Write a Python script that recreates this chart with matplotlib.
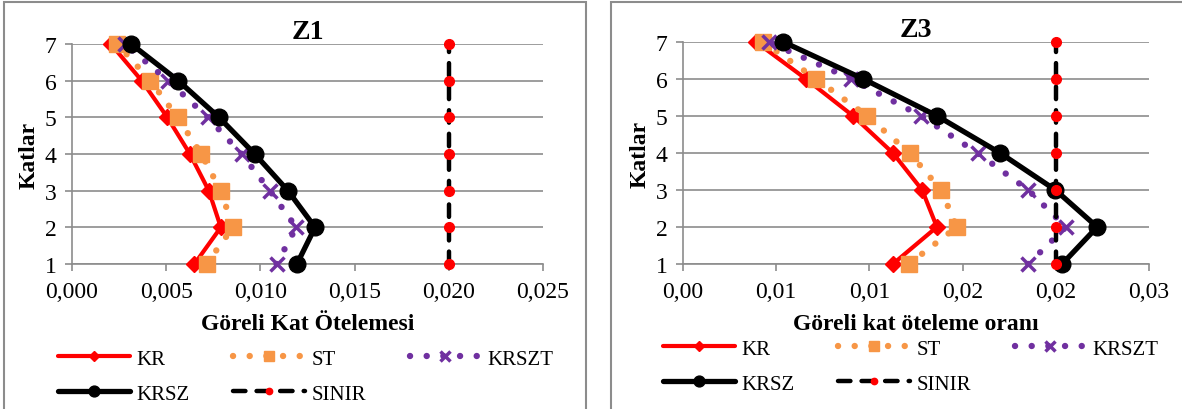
import matplotlib.pyplot as plt
from matplotlib.patches import Rectangle

plt.rcParams['font.family'] = ['Liberation Serif', 'DejaVu Serif']

katlar = [1, 2, 3, 4, 5, 6, 7]
x_ticks = [0.000, 0.005, 0.010, 0.015, 0.020, 0.025]

# Z1 - Göreli Kat Ötelemesi
z1_kr = [0.0065, 0.0079, 0.00726, 0.00626, 0.00506, 0.0037, 0.00206]
z1_st = [0.00714, 0.00854, 0.0079, 0.00686, 0.0056, 0.00416, 0.0024]
z1_krszt = [0.01086, 0.0119, 0.0105, 0.009, 0.0072, 0.0051, 0.0028]
z1_krsz = [0.01194, 0.0129, 0.01146, 0.0097, 0.0078, 0.00564, 0.00314]
z1_sinir = [0.02, 0.02, 0.02, 0.02, 0.02, 0.02, 0.02]
z1_xlabels = ['0,000', '0,005', '0,010', '0,015', '0,020', '0,025']

# Z3 - Göreli kat öteleme oranı
z3_kr = [0.01126, 0.01362, 0.01283, 0.01126, 0.00913, 0.0066, 0.00392]
z3_st = [0.01212, 0.01469, 0.01384, 0.01216, 0.00988, 0.00715, 0.00428]
z3_krszt = [0.01852, 0.02054, 0.01852, 0.0158, 0.01277, 0.00903, 0.00459]
z3_krsz = [0.02034, 0.02222, 0.01998, 0.01701, 0.01364, 0.00968, 0.00539]
z3_sinir = [0.02, 0.02, 0.02, 0.02, 0.02, 0.02, 0.02]
z3_xlabels = ['0,00', '0,01', '0,01', '0,02', '0,02', '0,03']

W, H = 1182, 410
fig = plt.figure(figsize=(W / 100, H / 100), dpi=100)

def px_axes(x0, x1, ytop, ybot):
    return fig.add_axes([x0 / W, 1 - ybot / H, (x1 - x0) / W, (ybot - ytop) / H])

def draw_panel(ax, kr, st, krszt, krsz, sinir, title, xlabel, xlabels, leg_x, leg_y):
    dot = (0, (0.01, 2.6))
    h_kr, = ax.plot(kr, katlar, color='#ff0000', lw=3, marker='D', ms=8,
                    solid_capstyle='round', label='KR', zorder=3, clip_on=False)
    h_st, = ax.plot(st, katlar, color='#f79646', lw=4.6, ls=dot, dash_capstyle='round',
                    marker='s', ms=11, label='ST', zorder=3, clip_on=False)
    h_krszt, = ax.plot(krszt, katlar, color='#7030a0', lw=4.6, ls=dot, dash_capstyle='round',
                       marker='x', ms=10, mew=2.5, label='KRSZT', zorder=3, clip_on=False)
    h_krsz, = ax.plot(krsz, katlar, color='black', lw=3.8, marker='o', ms=12,
                      solid_capstyle='round', label='KRSZ', zorder=4, clip_on=False)
    h_sinir, = ax.plot(sinir, katlar, color='black', lw=3.2, ls=(0, (2.8, 2.5)),
                       dash_capstyle='round', marker='o', ms=7, mfc='#ff0000',
                       mec='#ff0000', label='SINIR', zorder=5, clip_on=False)

    ax.set_xlim(0, 0.025)
    ax.set_ylim(1, 7)
    ax.set_xticks(x_ticks)
    ax.set_xticklabels(xlabels)
    ax.set_yticks(katlar)
    ax.grid(axis='y', color='#8c8c8c', lw=1.2)
    ax.set_axisbelow(True)
    for s in ['top', 'right']:
        ax.spines[s].set_visible(False)
    for s in ['left', 'bottom']:
        ax.spines[s].set_color('#8c8c8c')
        ax.spines[s].set_linewidth(1.2)
    ax.tick_params(colors='#8c8c8c', labelcolor='black', labelsize=17,
                   length=5, width=1.2, direction='out')
    ax.tick_params(axis='y', pad=6)
    ax.tick_params(axis='x', pad=7)
    ax.set_title(title, fontsize=20, fontweight='bold', pad=4)
    ax.set_xlabel(xlabel, fontsize=17, fontweight='bold', labelpad=8)
    ax.set_ylabel('Katlar', fontsize=17, fontweight='bold', labelpad=4)

    handles = [h_kr, h_krsz, h_st, h_sinir, h_krszt]
    ax.legend(handles=handles, ncol=3, loc='upper left',
              bbox_to_anchor=(leg_x / W, 1 - leg_y / H), bbox_transform=fig.transFigure,
              frameon=False, fontsize=15, handlelength=3.45, handletextpad=0.3,
              columnspacing=2.1, labelspacing=0.75, markerscale=0.65, borderaxespad=0,
              borderpad=0)

fig.patches.append(Rectangle((4 / W, -0.05), 582 / W, 1.05 - 3 / H,
                             transform=fig.transFigure, fill=False,
                             edgecolor='#8c8c8c', lw=1.5))
fig.patches.append(Rectangle((611 / W, -0.05), 580 / W, 1.05 - 3 / H,
                             transform=fig.transFigure, fill=False,
                             edgecolor='#8c8c8c', lw=1.5))

ax1 = px_axes(72, 543, 45, 265)
draw_panel(ax1, z1_kr, z1_st, z1_krszt, z1_krsz, z1_sinir, 'Z1',
           'Göreli Kat Ötelemesi', z1_xlabels, 58, 350)

ax2 = px_axes(683, 1149, 43, 265)
draw_panel(ax2, z3_kr, z3_st, z3_krszt, z3_krsz, z3_sinir, 'Z3',
           'Göreli kat öteleme oranı', z3_xlabels, 663, 340)

fig.savefig('out.png', dpi=100)
